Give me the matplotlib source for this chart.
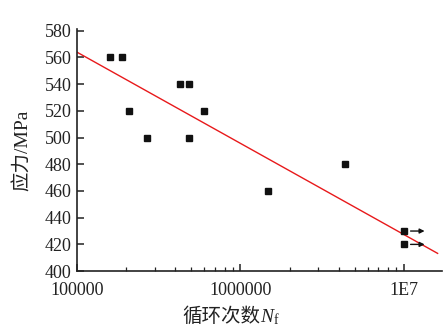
import matplotlib
matplotlib.use('Agg')
import matplotlib.pyplot as plt
from matplotlib.ticker import FixedLocator, LogLocator, NullFormatter
import numpy as np

plt.rcParams.update({
    'font.family': ['Liberation Serif', 'Noto Sans CJK SC'],
    'font.size': 13,
    'mathtext.fontset': 'custom',
    'mathtext.rm': 'Liberation Serif',
    'mathtext.it': 'Liberation Serif:italic',
})

# test data (cycles to failure, stress in MPa)
cycles = [1.59e5, 1.89e5, 2.09e5, 2.67e5, 4.29e5, 4.82e5, 4.86e5, 5.96e5,
          1.47e6, 4.35e6, 1.0e7, 1.0e7]
stress = [560, 560, 520, 500, 540, 540, 500, 520, 460, 480, 430, 420]
runout = [False] * 10 + [True, True]

# fitted S-N line: S = a + b*log10(N/1e5)
fit_a = 564.0
fit_b = -68.3
fit_range = [1e5, 1.61e7]

xticks = [1e5, 1e6, 1e7]
xticklabels = ['100000', '1000000', '1E7']
yticks = list(range(400, 581, 20))

W, H = 445, 331
fig = plt.figure(figsize=(W / 100, H / 100), dpi=100)
ax = fig.add_axes([0.173, 0.181, 0.82, 0.73])

nfit = np.logspace(np.log10(fit_range[0]), np.log10(fit_range[1]), 50)
ax.plot(nfit, fit_a + fit_b * np.log10(nfit / 1e5), color='#e8191b', lw=1.0, zorder=2)

ax.plot(cycles, stress, 's', color='#111111', ms=5, ls='none', zorder=3)
for n, s, r in zip(cycles, stress, runout):
    if r:
        ax.annotate('', xy=(n * 1.34, s), xytext=(n * 1.1, s),
                    arrowprops=dict(arrowstyle='-|>', color='#111111', lw=1.0,
                                    mutation_scale=7, shrinkA=0, shrinkB=0))

ax.set_xscale('log')
ax.set_xlim(1e5, 1.71e7)
ax.set_ylim(400, 581)
ax.xaxis.set_major_locator(FixedLocator(xticks))
ax.set_xticklabels(xticklabels)
ax.xaxis.set_minor_locator(LogLocator(base=10, subs=np.arange(2, 10)))
ax.xaxis.set_minor_formatter(NullFormatter())
ax.set_yticks(yticks)

for side in ['top', 'right']:
    ax.spines[side].set_visible(False)
for side in ['left', 'bottom']:
    ax.spines[side].set_linewidth(1.2)
    ax.spines[side].set_color('#222222')

ax.tick_params(which='major', direction='in', length=5, width=1.1, colors='#222222')
ax.tick_params(which='minor', direction='in', length=3, width=0.9, colors='#222222')
ax.tick_params(axis='y', pad=4)
ax.tick_params(axis='x', pad=8)
ax.tick_params(axis='both', labelcolor='#222222', labelsize=13)

ax.set_ylabel('应力/MPa', fontsize=14, labelpad=9, color='#222222')

# x label: Chinese text + italic N with subscript f
xl_x, xl_y = 260 / W, 1 - 322 / H
fig.text(xl_x, xl_y, '循环次数', ha='right', va='baseline', fontsize=14, color='#222222')
fig.text(xl_x, xl_y, '$N_\\mathrm{f}$', ha='left', va='baseline', fontsize=14, color='#222222')

fig.savefig('out.png', dpi=100)
